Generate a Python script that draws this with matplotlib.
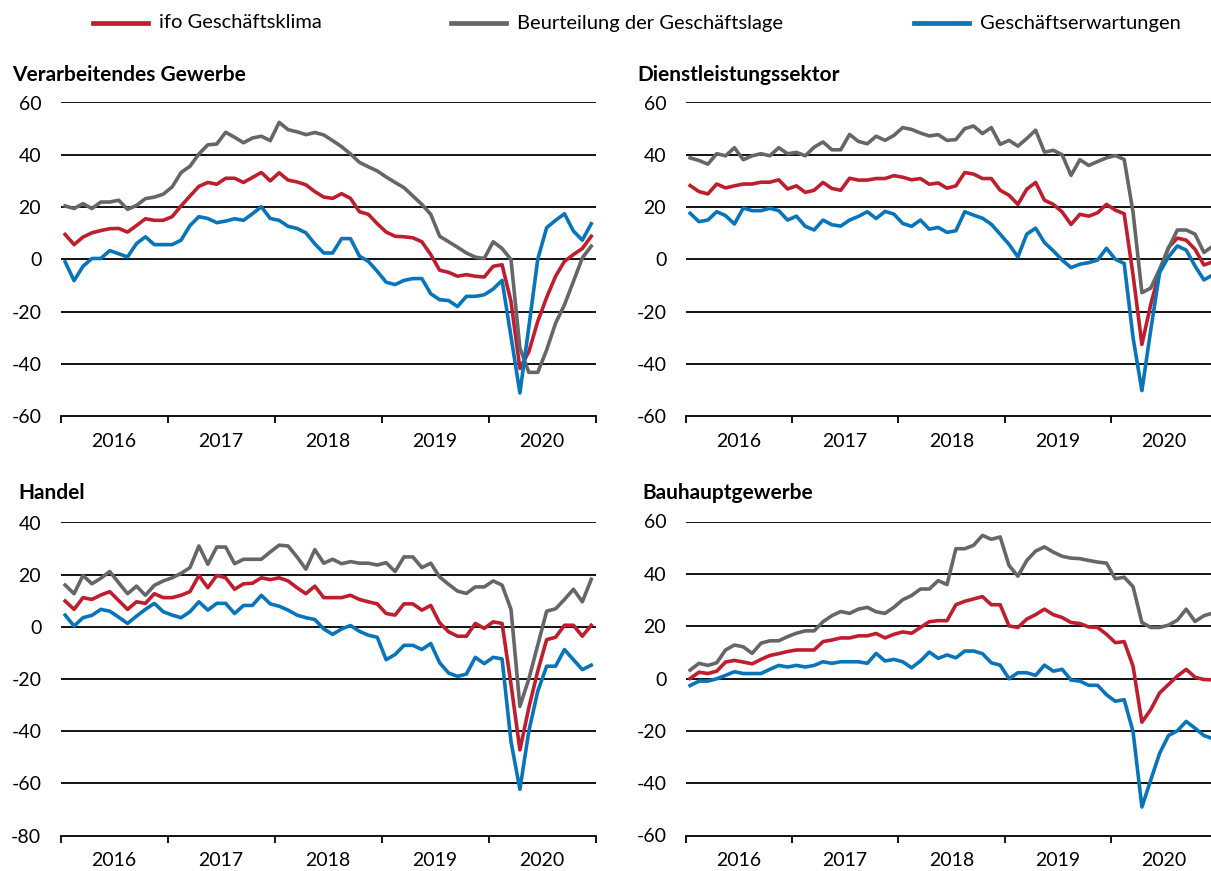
import matplotlib
matplotlib.use("Agg")
import matplotlib.pyplot as plt
import numpy as np
from matplotlib.lines import Line2D

plt.rcParams['font.family'] = ['Lato', 'DejaVu Sans']

# monthly values Jan 2016 - Dec 2020
years = ['2016', '2017', '2018', '2019', '2020']
series_names = ['ifo Geschäftsklima', 'Beurteilung der Geschäftslage', 'Geschäftserwartungen']

# Verarbeitendes Gewerbe
vg_klima = [9.5, 5.6, 8.5, 10.1, 11.0, 11.7, 11.8, 10.4, 12.9, 15.5, 14.9, 14.9, 16.3, 20.4, 24.2,
            27.9, 29.4, 28.7, 31.0, 31.0, 29.4, 31.3, 33.2, 30.0, 33.1, 30.3, 29.6, 28.5, 25.9, 23.8,
            23.3, 25.1, 23.3, 18.2, 17.2, 13.6, 10.4, 8.8, 8.6, 8.2, 6.7, 1.8, -4.2, -5.0, -6.5,
            -5.9, -6.5, -6.8, -2.7, -2.1, -16.2, -41.8, -35.4, -23.8, -14.6, -6.5, -0.8, 1.8, 4.1, 8.8]
vg_lage = [20.4, 19.4, 21.3, 19.4, 21.9, 21.9, 22.6, 19.1, 20.6, 23.2, 23.8, 24.9, 27.7, 33.2, 35.6,
           40.3, 43.8, 44.1, 48.6, 46.7, 44.6, 46.4, 47.1, 45.4, 52.4, 49.6, 48.8, 47.7, 48.5, 47.6,
           45.4, 43.1, 40.3, 37.1, 35.4, 33.8, 31.5, 29.4, 27.4, 24.2, 21.0, 17.2, 8.8, 6.7, 4.6,
           2.4, 0.8, 0.3, 6.7, 4.1, -0.1, -34.0, -43.3, -43.3, -34.7, -24.5, -17.4, -8.5, 0.5, 5.0]
vg_erw = [-1.0, -8.2, -2.7, 0.3, 0.3, 3.3, 2.1, 0.9, 6.0, 8.6, 5.6, 5.6, 5.6, 7.3, 12.9,
          16.3, 15.6, 14.0, 14.6, 15.5, 14.9, 17.4, 20.1, 15.6, 14.9, 12.6, 11.8, 10.1, 5.9, 2.4,
          2.4, 7.9, 7.9, 1.2, -0.8, -4.6, -8.8, -9.7, -8.1, -7.4, -7.4, -13.2, -15.5, -15.8, -18.1,
          -14.2, -14.2, -13.6, -11.4, -8.1, -29.6, -51.2, -26.0, 0.0, 12.1, 14.9, 17.4, 10.8, 7.3, 13.6]

# Dienstleistungssektor
dl_klima = [28.2, 25.9, 25.0, 28.8, 27.3, 28.1, 28.8, 28.8, 29.5, 29.5, 30.4, 26.9, 28.1, 25.6, 26.4,
            29.4, 27.1, 26.4, 31.0, 30.3, 30.3, 30.9, 30.9, 32.0, 31.4, 30.4, 30.9, 28.7, 29.2, 27.2,
            28.1, 33.2, 32.6, 30.9, 30.9, 26.4, 24.5, 21.0, 26.8, 29.4, 22.6, 21.0, 18.1, 13.3, 17.2,
            16.5, 17.8, 21.0, 18.8, 17.4, -6.0, -32.6, -17.3, -4.5, 4.5, 8.1, 7.3, 3.8, -2.2, -1.0]
dl_lage = [38.8, 37.8, 36.4, 40.4, 39.6, 42.7, 38.1, 39.6, 40.4, 39.6, 42.7, 40.4, 40.9, 39.6, 42.9,
           44.9, 41.9, 41.9, 47.8, 45.1, 44.2, 47.1, 45.5, 47.4, 50.4, 49.7, 48.3, 47.2, 47.7, 45.5,
           45.8, 50.0, 51.0, 48.1, 50.4, 44.0, 45.5, 43.3, 46.2, 49.4, 41.0, 41.7, 40.0, 32.1, 38.1,
           35.9, 37.4, 38.8, 39.7, 38.2, 18.0, -12.8, -11.0, -3.8, 4.2, 11.2, 11.2, 9.6, 2.6, 5.0]
dl_erw = [17.6, 14.4, 15.0, 18.2, 16.7, 13.5, 19.6, 18.6, 18.6, 19.5, 18.6, 15.0, 16.5, 12.6, 11.2,
          15.0, 13.2, 12.7, 15.0, 16.4, 18.2, 15.6, 18.3, 17.3, 13.7, 12.6, 15.0, 11.5, 12.2, 10.3,
          10.9, 18.2, 16.9, 15.7, 13.4, 9.6, 5.7, 0.9, 9.6, 11.9, 6.4, 3.2, -0.3, -3.2, -1.9,
          -1.3, -0.3, 4.2, 0.0, -1.6, -30.0, -50.3, -27.0, -5.1, 0.9, 5.1, 3.5, -2.6, -7.9, -6.0]

# Handel
ha_klima = [9.9, 6.7, 11.2, 10.5, 12.2, 13.5, 10.1, 6.7, 9.6, 9.0, 12.7, 11.2, 11.2, 12.1, 13.5,
            19.7, 15.0, 19.7, 18.8, 14.4, 16.5, 16.7, 18.8, 18.1, 18.8, 17.6, 15.0, 12.7, 15.6, 11.2,
            11.2, 11.2, 12.1, 10.5, 9.6, 8.8, 5.1, 4.5, 8.8, 8.8, 6.4, 8.2, 1.5, -1.9, -3.6,
            -3.6, 1.3, -0.6, 1.9, 1.3, -22.0, -47.2, -31.0, -17.0, -4.9, -4.0, 0.6, 0.6, -3.6, 0.6]
ha_lage = [16.0, 12.7, 19.7, 16.5, 18.6, 21.2, 16.9, 12.7, 15.6, 12.1, 15.9, 17.6, 18.8, 20.5, 22.7,
           31.0, 24.0, 30.6, 30.6, 24.2, 25.9, 25.9, 25.9, 28.7, 31.3, 31.0, 26.8, 22.1, 29.6, 24.4,
           25.9, 24.2, 25.0, 24.4, 24.4, 23.7, 24.6, 21.2, 26.8, 26.8, 22.7, 24.4, 19.1, 16.3, 13.7,
           12.8, 15.3, 15.3, 17.6, 16.0, 6.7, -30.5, -20.0, -7.0, 6.0, 6.9, 10.5, 14.4, 9.6, 18.2]
ha_erw = [4.5, 0.3, 3.5, 4.4, 6.7, 6.0, 3.7, 1.3, 4.1, 6.7, 9.0, 5.8, 4.5, 3.5, 5.8,
          9.6, 6.4, 9.0, 9.0, 5.1, 8.2, 8.2, 12.1, 8.8, 7.9, 6.4, 4.5, 3.5, 2.8, -0.8,
          -2.9, -0.8, 0.5, -1.7, -3.2, -4.0, -12.6, -10.6, -7.1, -7.1, -8.7, -6.4, -13.8, -17.7, -19.0,
          -18.1, -11.7, -14.1, -11.7, -12.3, -44.0, -62.3, -40.0, -24.7, -15.1, -15.1, -8.7, -12.6, -16.4, -14.7]

# Bauhauptgewerbe
bau_klima = [0.0, 2.4, 1.9, 2.8, 6.3, 6.9, 6.3, 5.6, 7.3, 8.8, 9.5, 10.3, 10.9, 10.9, 10.9,
             14.1, 14.7, 15.5, 15.5, 16.3, 16.3, 17.2, 15.5, 16.9, 17.8, 17.3, 19.5, 21.7, 22.1, 22.1,
             28.2, 29.5, 30.4, 31.3, 28.2, 28.2, 20.1, 19.5, 22.7, 24.4, 26.5, 24.4, 23.3, 21.4, 21.0,
             19.7, 19.5, 16.9, 13.7, 14.1, 4.7, -16.7, -11.9, -5.5, -2.3, 0.9, 3.5, 0.5, -0.4, -0.5]
bau_lage = [3.2, 5.8, 5.0, 6.0, 10.9, 12.8, 12.1, 9.6, 13.5, 14.4, 14.4, 16.0, 17.3, 18.2, 18.2,
            21.7, 24.0, 25.6, 24.9, 26.5, 27.2, 25.5, 24.9, 27.2, 30.1, 31.7, 34.2, 34.2, 37.4, 35.9,
            49.6, 49.6, 50.9, 54.7, 53.2, 54.1, 43.2, 39.1, 45.1, 48.7, 50.3, 48.3, 46.7, 46.0, 45.8,
            45.1, 44.5, 44.1, 38.1, 38.7, 35.1, 21.4, 19.5, 19.5, 20.4, 22.3, 26.5, 21.8, 24.0, 25.0]
bau_erw = [-2.7, -1.0, -1.0, -0.1, 1.2, 2.6, 1.9, 1.9, 1.9, 3.5, 5.0, 4.4, 5.0, 4.4, 5.0,
           6.4, 5.8, 6.4, 6.4, 6.4, 5.8, 9.6, 6.7, 7.3, 6.4, 4.1, 6.7, 10.1, 7.7, 9.0,
           7.9, 10.5, 10.5, 9.5, 6.0, 5.1, -0.1, 2.2, 2.2, 1.2, 5.1, 2.8, 3.5, -0.6, -1.0,
           -2.6, -2.6, -6.2, -8.7, -8.1, -20.3, -49.1, -38.8, -28.6, -21.8, -20.0, -16.4, -19.0, -21.8, -23.0]

RED = '#BE1E2D'
GRAY = '#666666'
BLUE = '#0874BA'
W, H = 1211, 871

fig = plt.figure(figsize=(W / 100, H / 100), dpi=100)


def px_rect(x0, x1, ytop, ybot):
    return [x0 / W, 1 - ybot / H, (x1 - x0) / W, (ybot - ytop) / H]


def panel(rect, title, tx, ty, yticks, klima, lage, erw):
    ax = fig.add_axes(rect)
    x = np.arange(len(klima)) + 0.5
    for v in yticks[1:]:
        ax.axhline(v, color='black', lw=1.3, zorder=1)
    ax.plot(x, klima, color=RED, lw=2.6, zorder=3)
    ax.plot(x, lage, color=GRAY, lw=2.6, zorder=3)
    ax.plot(x, erw, color=BLUE, lw=2.6, zorder=3)
    ax.set_xlim(0, 60)
    ax.set_ylim(yticks[0], yticks[-1])
    for s in ['top', 'right', 'left']:
        ax.spines[s].set_visible(False)
    ax.spines['bottom'].set_linewidth(1.3)
    ax.set_xticks(np.arange(0, 61, 12))
    ax.set_xticklabels([])
    ax.tick_params(axis='x', which='major', length=5, width=1.3, direction='out')
    ax.set_xticks(np.arange(6, 60, 12), minor=True)
    ax.set_xticklabels(years, minor=True, fontsize=14)
    ax.tick_params(axis='x', which='minor', length=0, pad=12)
    ax.set_yticks(yticks)
    ax.set_yticklabels([str(v) for v in yticks], fontsize=14)
    ax.tick_params(axis='y', length=0, pad=14)
    fig.text(tx / W, 1 - ty / H, title, fontsize=15, fontweight='bold', va='center', ha='left')
    return ax


panel(px_rect(60.7, 595.7, 102.5, 416), 'Verarbeitendes Gewerbe', 12, 75,
      [-60, -40, -20, 0, 20, 40, 60], vg_klima, vg_lage, vg_erw)
panel(px_rect(685.7, 1217.2, 102.5, 416), 'Dienstleistungssektor', 637, 75,
      [-60, -40, -20, 0, 20, 40, 60], dl_klima, dl_lage, dl_erw)
panel(px_rect(60.7, 595.7, 522.5, 835.5), 'Handel', 18, 493,
      [-80, -60, -40, -20, 0, 20, 40], ha_klima, ha_lage, ha_erw)
panel(px_rect(685.7, 1217.2, 521.5, 835.5), 'Bauhauptgewerbe', 642, 493,
      [-60, -40, -20, 0, 20, 40, 60], bau_klima, bau_lage, bau_erw)

# legend at the top, drawn entry by entry
legend_y = 1 - 23 / H
handle_x = [(93, 148), (451, 506), (914, 969)]
for (x0, x1), color, name in zip(handle_x, (RED, GRAY, BLUE), series_names):
    fig.add_artist(Line2D([x0 / W, x1 / W], [legend_y, legend_y], color=color, lw=3.4,
                          transform=fig.transFigure))
    fig.text((x1 + 11) / W, legend_y, name, fontsize=14.5, va='center', ha='left')

fig.savefig('out.png', dpi=100)
